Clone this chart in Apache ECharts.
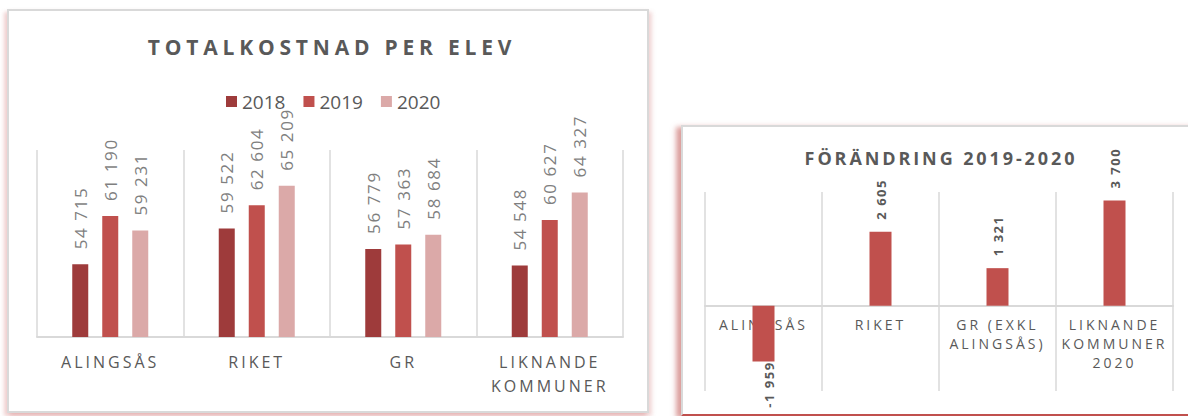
<!DOCTYPE html>
<html>
<head>
<meta charset="utf-8">
<script src="https://cdn.jsdelivr.net/npm/echarts@6/dist/echarts.min.js"></script>
<style>
  html, body { margin: 0; padding: 0; background: #fff; }
  body { width: 1188px; height: 416px; position: relative; overflow: hidden; }
  .panel { position: absolute; box-sizing: border-box; background: #fff; border: 2px solid #d9d9d9; }
  #p1 { left: 7px; top: 9px; width: 642px; height: 404px;
        box-shadow: -3px 3px 4px rgba(205, 100, 100, 0.3), 3px 3px 4px rgba(205, 100, 100, 0.25); }
  #p2 { left: 681px; top: 125px; width: 530px; height: 291px; border-bottom: 2px solid #c0504d;
        box-shadow: -5px 2px 5px rgba(192, 80, 77, 0.55); }
  #chart { position: absolute; left: 0; top: 0; width: 1188px; height: 416px; }
  /* Excel-like letter spacing, picked out by font size */
  #chart text[style*="21px"] { letter-spacing: 4.8px; }
  #chart text[style*="18px"] { letter-spacing: 2.9px; }
  #chart text[style*="16px"] { letter-spacing: 3px; }
  #chart text[style*="14px"] { letter-spacing: 3px; }
  #chart text[style*="17px"] { letter-spacing: 1.6px; }
  #chart text[style*="13px"] { letter-spacing: 1.5px; }
</style>
</head>
<body>
<div class="panel" id="p1"></div>
<div class="panel" id="p2"></div>
<div id="chart"></div>
<script>
// data
const costCategories = ['ALINGSÅS', 'RIKET', 'GR', 'LIKNANDE\nKOMMUNER'];
const costYears = ['2018', '2019', '2020'];
const cost2018 = [54715, 59522, 56779, 54548];
const cost2019 = [61190, 62604, 57363, 60627];
const cost2020 = [59231, 65209, 58684, 64327];

const changeCategories = ['ALINGSÅS', 'RIKET', 'GR (EXKL\nALINGSÅS)', 'LIKNANDE\nKOMMUNER\n2020'];
const change2019to2020 = [-1959, 2605, 1321, 3700];

const yearColors = ['#9e3b3b', '#c0504d', '#dba9a8'];
const font = '"Open Sans", sans-serif';
const grey = '#595959';
const lineGrey = '#d9d9d9';

const fmt = (v) => (v < 0 ? '-' : '') + String(Math.abs(v)).replace(/\B(?=(\d{3})+(?!\d))/g, ' ');

const chart = echarts.init(document.getElementById('chart'), null, { renderer: 'svg' });

const costLabel = {
  show: true,
  position: 'top',
  rotate: 90,
  align: 'left',
  verticalAlign: 'middle',
  distance: 15,
  fontFamily: font,
  fontSize: 17,
  color: '#7f7f7f',
  formatter: (p) => fmt(p.value),
};

const labelStyle = (size, lh, margin) => ({
  color: grey, fontFamily: font, fontSize: size, lineHeight: lh, margin: margin, interval: 0,
});

const option = {
  backgroundColor: 'transparent',
  animation: false,
  title: [
    {
      text: 'TOTALKOSTNAD PER ELEV',
      left: 327, top: 31, textAlign: 'center',
      textStyle: { color: grey, fontFamily: font, fontSize: 21, fontWeight: 'bold' },
    },
    {
      text: 'FÖRÄNDRING 2019-2020',
      left: 936, top: 144, textAlign: 'center',
      textStyle: { color: grey, fontFamily: font, fontSize: 18, fontWeight: 'bold' },
    },
  ],
  legend: {
    data: costYears,
    left: 221, top: 87,
    icon: 'rect', itemWidth: 11, itemHeight: 11, itemGap: 18,
    textStyle: { color: grey, fontFamily: font, fontSize: 19 },
  },
  grid: [
    { left: 37, right: 565, top: 150, bottom: 79, outerBoundsMode: 'none' },
    { left: 705, right: 15, top: 192, bottom: 25, outerBoundsMode: 'none' },
  ],
  xAxis: [
    {
      type: 'category', gridIndex: 0, data: costCategories,
      axisTick: { show: false },
      axisLine: { lineStyle: { color: lineGrey, width: 2 } },
      splitLine: { show: true, lineStyle: { color: lineGrey, width: 1.5 } },
      axisLabel: labelStyle(16, 24, 13),
    },
    {
      // zero line + category separators
      type: 'category', gridIndex: 1, data: changeCategories,
      axisTick: { show: false },
      axisLine: { onZero: true, lineStyle: { color: lineGrey, width: 2 } },
      splitLine: { show: true, lineStyle: { color: lineGrey, width: 1.5 } },
      axisLabel: { show: false },
    },
    {
      // category names sitting just under the zero line
      type: 'category', gridIndex: 1, data: changeCategories, position: 'bottom', offset: -85,
      axisTick: { show: false },
      axisLine: { show: false, onZero: false },
      splitLine: { show: false },
      axisLabel: labelStyle(14, 19, 9),
    },
  ],
  yAxis: [
    { type: 'value', gridIndex: 0, min: 45000, max: 70000, show: false },
    { type: 'value', gridIndex: 1, min: -3000, max: 4000, show: false },
  ],
  series: [
    ...[cost2018, cost2019, cost2020].map((vals, i) => ({
      name: costYears[i],
      type: 'bar',
      xAxisIndex: 0, yAxisIndex: 0,
      data: vals,
      barWidth: 16, barGap: '87.5%',
      itemStyle: { color: yearColors[i] },
      label: costLabel,
    })),
    {
      name: 'Förändring',
      type: 'bar',
      xAxisIndex: 1, yAxisIndex: 1,
      data: change2019to2020.map((v) => v < 0
        ? { value: v, label: { position: ['50%', '100%'], offset: [0, 5], align: 'right', verticalAlign: 'middle' } }
        : v),
      barWidth: 22,
      itemStyle: { color: '#c0504d' },
      label: {
        show: true,
        position: 'top',
        rotate: 90,
        align: 'left',
        verticalAlign: 'middle',
        distance: 12,
        fontFamily: font,
        fontSize: 13,
        fontWeight: 'bold',
        color: grey,
        formatter: (p) => fmt(p.value),
      },
    },
  ],
};

chart.setOption(option);
</script>
</body>
</html>
